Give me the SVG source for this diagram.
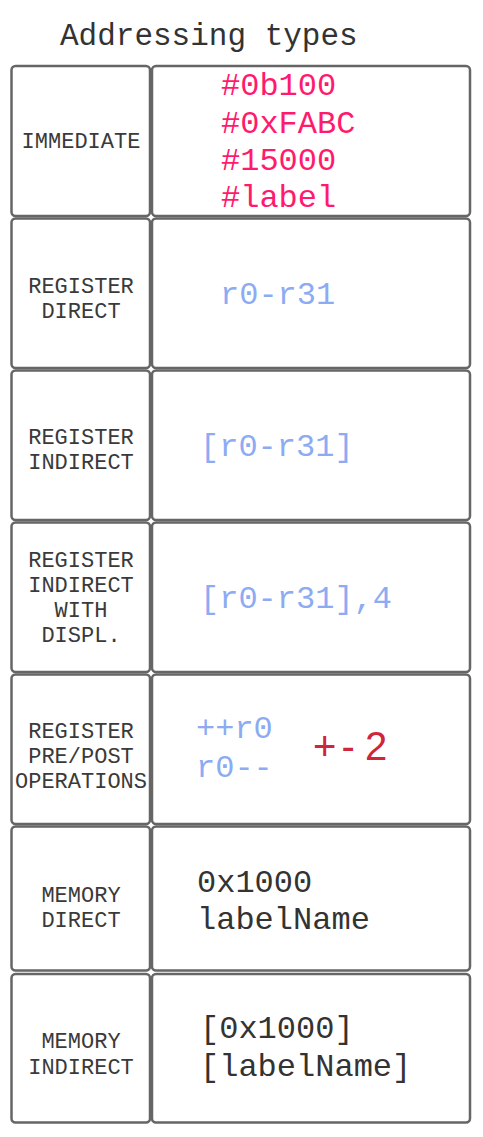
<svg xmlns="http://www.w3.org/2000/svg" width="483" height="1137" viewBox="0 0 483 1137">
<style>
.box{fill:#fff;stroke:#666;stroke-width:2.5}
.lbl{font-family:"Liberation Mono","Courier New",monospace;font-size:22px;fill:#3a3a3a;text-anchor:middle}
.big{font-family:"Liberation Mono","Courier New",monospace;font-size:32px}
.pink{fill:#FF1A6E}
.blue{fill:#8CABF3}
.dark{fill:#333}
</style>
<rect width="483" height="1137" fill="#fff"/>
<text id="title" x="60" y="45" font-family="Liberation Mono, Courier New, monospace" font-size="31" fill="#333">Addressing types</text>
<g id="connectors"/>
<g id="row-immediate">
<rect class="box" x="11.5" y="66" width="138.5" height="150" rx="4"/>
<rect class="box" x="152" y="66" width="318" height="150" rx="4"/>
<text class="lbl" x="81" y="147.5">IMMEDIATE</text>
<text class="big pink" x="221"><tspan x="221" y="95">#0b100</tspan><tspan x="221" y="132.7">#0xFABC</tspan><tspan x="221" y="170">#15000</tspan><tspan x="221" y="207.3">#label</tspan></text>
</g>
<g id="row-register-direct">
<rect class="box" x="11.5" y="218.5" width="138.5" height="149.5" rx="4"/>
<rect class="box" x="152" y="218.5" width="318" height="149.5" rx="4"/>
<text class="lbl"><tspan x="81" y="292.7">REGISTER</tspan><tspan x="81" y="317.7">DIRECT</tspan></text>
<text class="big blue" x="220" y="304.3">r0-r31</text>
</g>
<g id="row-register-indirect">
<rect class="box" x="11.5" y="370.5" width="138.5" height="149.5" rx="4"/>
<rect class="box" x="152" y="370.5" width="318" height="149.5" rx="4"/>
<text class="lbl"><tspan x="81" y="444.3">REGISTER</tspan><tspan x="81" y="469.3">INDIRECT</tspan></text>
<text class="big blue" x="200" y="456">[r0-r31]</text>
</g>
<g id="row-register-indirect-displ">
<rect class="box" x="11.5" y="522.5" width="138.5" height="149.5" rx="4"/>
<rect class="box" x="152" y="522.5" width="318" height="149.5" rx="4"/>
<text class="lbl"><tspan x="81" y="566.7">REGISTER</tspan><tspan x="81" y="591.7">INDIRECT</tspan><tspan x="81" y="616.7">WITH</tspan><tspan x="81" y="641.7">DISPL.</tspan></text>
<text class="big blue" x="200" y="608.3">[r0-r31],4</text>
</g>
<g id="row-register-prepost">
<rect class="box" x="11.5" y="674.5" width="138.5" height="149.5" rx="4"/>
<rect class="box" x="152" y="674.5" width="318" height="149.5" rx="4"/>
<text class="lbl"><tspan x="81" y="738.3">REGISTER</tspan><tspan x="81" y="763.3">PRE/POST</tspan><tspan x="81" y="788.3">OPERATIONS</tspan></text>
<text class="big blue"><tspan x="196" y="738.3">++r0</tspan><tspan x="196" y="776.5">r0--</tspan></text>
<text x="313 341.5 365" y="760" font-family="Liberation Sans, Arial, sans-serif" font-size="40" fill="#CF2639">+-2</text>
</g>
<g id="row-memory-direct">
<rect class="box" x="11.5" y="826.5" width="138.5" height="144" rx="4"/>
<rect class="box" x="152" y="826.5" width="318" height="144" rx="4"/>
<text class="lbl"><tspan x="81" y="901.7">MEMORY</tspan><tspan x="81" y="927">DIRECT</tspan></text>
<text class="big dark"><tspan x="197" y="891.7">0x1000</tspan><tspan x="197" y="929.3">labelName</tspan></text>
</g>
<g id="row-memory-indirect">
<rect class="box" x="11.5" y="974" width="138.5" height="148.5" rx="4"/>
<rect class="box" x="152" y="974" width="318" height="148.5" rx="4"/>
<text class="lbl"><tspan x="81" y="1048.3">MEMORY</tspan><tspan x="81" y="1074">INDIRECT</tspan></text>
<text class="big dark"><tspan x="200" y="1038">[0x1000]</tspan><tspan x="200" y="1076">[labelName]</tspan></text>
</g>
</svg>
